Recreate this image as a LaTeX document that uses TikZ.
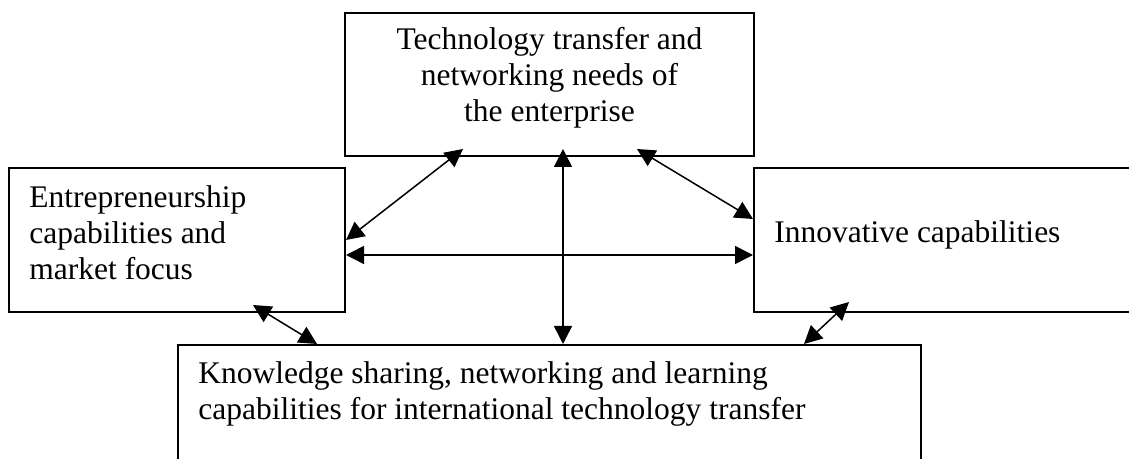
\documentclass[tikz,border=0pt]{standalone}
\usepackage{fontspec}
\setmainfont{Liberation Serif}
\usetikzlibrary{arrows.meta}
\begin{document}
\begin{tikzpicture}[x=0.5pt, y=-0.5pt, every node/.style={font=\fontsize{15.75}{18.2}\selectfont}, box/.style={draw,line width=1pt,inner sep=0pt,anchor=north west}, txt/.style={inner sep=0pt,align=left,anchor=base west}, link/.style={<->,>={Triangle[length=9pt,width=9pt]},line width=0.75pt}]
\clip (0,0) rectangle (1129,459);
\fill[white] (0,0) rectangle (1129,459);
% the four blocks (right and bottom run off the page)
\node[box,minimum width=204.5pt,minimum height=71.5pt] (need) at (344,12) {};
\node[box,minimum width=168pt,minimum height=72pt] (ent) at (8,167) {};
\node[box,minimum width=200pt,minimum height=72pt] (inno) at (753,167) {};
\node[box,minimum width=371.5pt,minimum height=80pt] (know) at (177,344) {};
% block texts, placed by the baseline of their last line
\node[txt,anchor=base,align=center] (needtxt) at ([yshift=-55pt]need.north) {Technology transfer and\\ networking needs of\\ the enterprise};
\node[txt] (enttxt) at ([xshift=10.5pt,yshift=-56.5pt]ent.north west) {Entrepreneurship\\ capabilities and\\ market focus};
\node[txt] (innotxt) at ([xshift=10.5pt,yshift=-38pt]inno.north west) {Innovative capabilities};
\node[txt] (knowtxt) at ([xshift=10.5pt,yshift=-38pt]know.north west) {Knowledge sharing, networking and learning\\ capabilities for international technology transfer};
% two-way links
\draw[link] ([xshift=59.5pt,yshift=4pt]need.south west) -- (ent.east);
\draw[link] ([xshift=6.75pt,yshift=4pt]need.south) -- ([xshift=6.75pt]know.north);
\draw[link] ([xshift=-59pt,yshift=4pt]need.south east) -- ([yshift=10.5pt]inno.west);
\draw[link] ([yshift=-7.5pt]ent.east) -- ([yshift=-7.5pt]inno.west);
\draw[link] ([xshift=122.5pt,yshift=4pt]ent.south west) -- ([xshift=70pt]know.north west);
\draw[link] ([xshift=48pt,yshift=5.5pt]inno.south west) -- ([xshift=-59pt]know.north east);
\end{tikzpicture}
\end{document}
